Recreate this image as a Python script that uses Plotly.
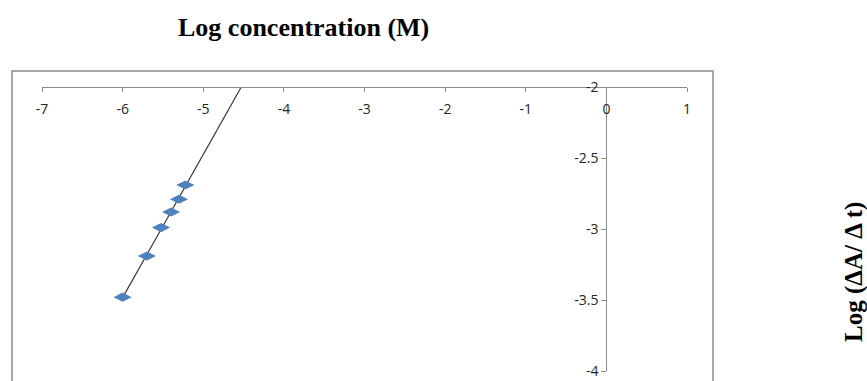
import numpy as np
import plotly.graph_objects as go

# Data
log_conc = [-6.0, -5.699, -5.523, -5.398, -5.301, -5.222]
log_rate = [-3.48, -3.19, -2.99, -2.88, -2.79, -2.69]

x_tick_vals = [-7, -6, -5, -4, -3, -2, -1, 0, 1]
x_tick_text = ["-7", "-6", "-5", "-4", "-3", "-2", "-1", "0", "1"]
y_tick_vals = [-2, -2.5, -3, -3.5, -4]
y_tick_text = ["-2", "-2.5", "-3", "-3.5", "-4"]

x_title = "Log concentration (M)"
y_title = "Log (ΔA/ Δ t)"

# Linear trendline (forward forecast, clipped at the top of the plot area)
slope, intercept = np.polyfit(log_conc, log_rate, 1)
trend_x = np.array([min(log_conc), -4.0])
trend_y = slope * trend_x + intercept

W, H = 867, 381
L, R, T, B = 42, 180, 87, 10
pw, ph = W - L - R, H - T - B

def px_x(x):
    return (x - L) / pw

def px_y(y):
    return 1 - (y - T) / ph

fig = go.Figure()
fig.add_trace(go.Scatter(
    x=trend_x, y=trend_y, mode="lines",
    line=dict(color="#3a3a3a", width=1.2),
    hoverinfo="skip", showlegend=False,
))
fig.add_trace(go.Scatter(
    x=log_conc, y=log_rate, mode="markers",
    marker=dict(symbol="diamond-wide", size=13, color="#4F81BD",
                line=dict(width=0)),
    showlegend=False, cliponaxis=False,
))

tick_font = dict(family="Open Sans, DejaVu Sans, sans-serif", size=14, color="#262626")

fig.update_layout(
    width=W, height=H,
    margin=dict(l=L, r=R, t=T, b=B),
    paper_bgcolor="white", plot_bgcolor="white",
    xaxis=dict(
        range=[-7, 1], tickvals=x_tick_vals, ticktext=x_tick_text,
        anchor="free", position=1, side="bottom", automargin=False,
        showline=True, linecolor="#8c8c8c", linewidth=1,
        ticks="outside", ticklen=4, tickcolor="#8c8c8c",
        showgrid=False, zeroline=False, tickfont=tick_font,
        ticklabelstandoff=5,
    ),
    yaxis=dict(
        range=[-4, -2], tickvals=y_tick_vals, ticktext=y_tick_text,
        anchor="free", position=0.875, side="left", automargin=False,
        showline=True, linecolor="#8c8c8c", linewidth=1,
        ticks="outside", ticklen=5, tickcolor="#8c8c8c",
        showgrid=False, zeroline=False, tickfont=tick_font,
    ),
    shapes=[dict(
        type="rect", xref="paper", yref="paper",
        x0=px_x(12), x1=px_x(713), y0=px_y(420), y1=px_y(71),
        line=dict(color="#8c8c8c", width=1.5), layer="below",
    )],
    annotations=[
        dict(text="<b>" + x_title + "</b>", xref="paper", yref="paper",
             x=px_x(303), y=px_y(27), showarrow=False,
             xanchor="center", yanchor="middle",
             font=dict(family="Liberation Serif, Times New Roman, serif", size=26, color="black")),
        dict(text="<b>" + y_title + "</b>", xref="paper", yref="paper",
             x=px_x(854), y=px_y(272), showarrow=False, textangle=-90,
             xanchor="center", yanchor="middle",
             font=dict(family="Liberation Serif, Times New Roman, serif", size=25, color="black")),
    ],
)

fig.write_html("out.html", config={"displayModeBar": False},
               post_script="document.body.style.margin='0';")
